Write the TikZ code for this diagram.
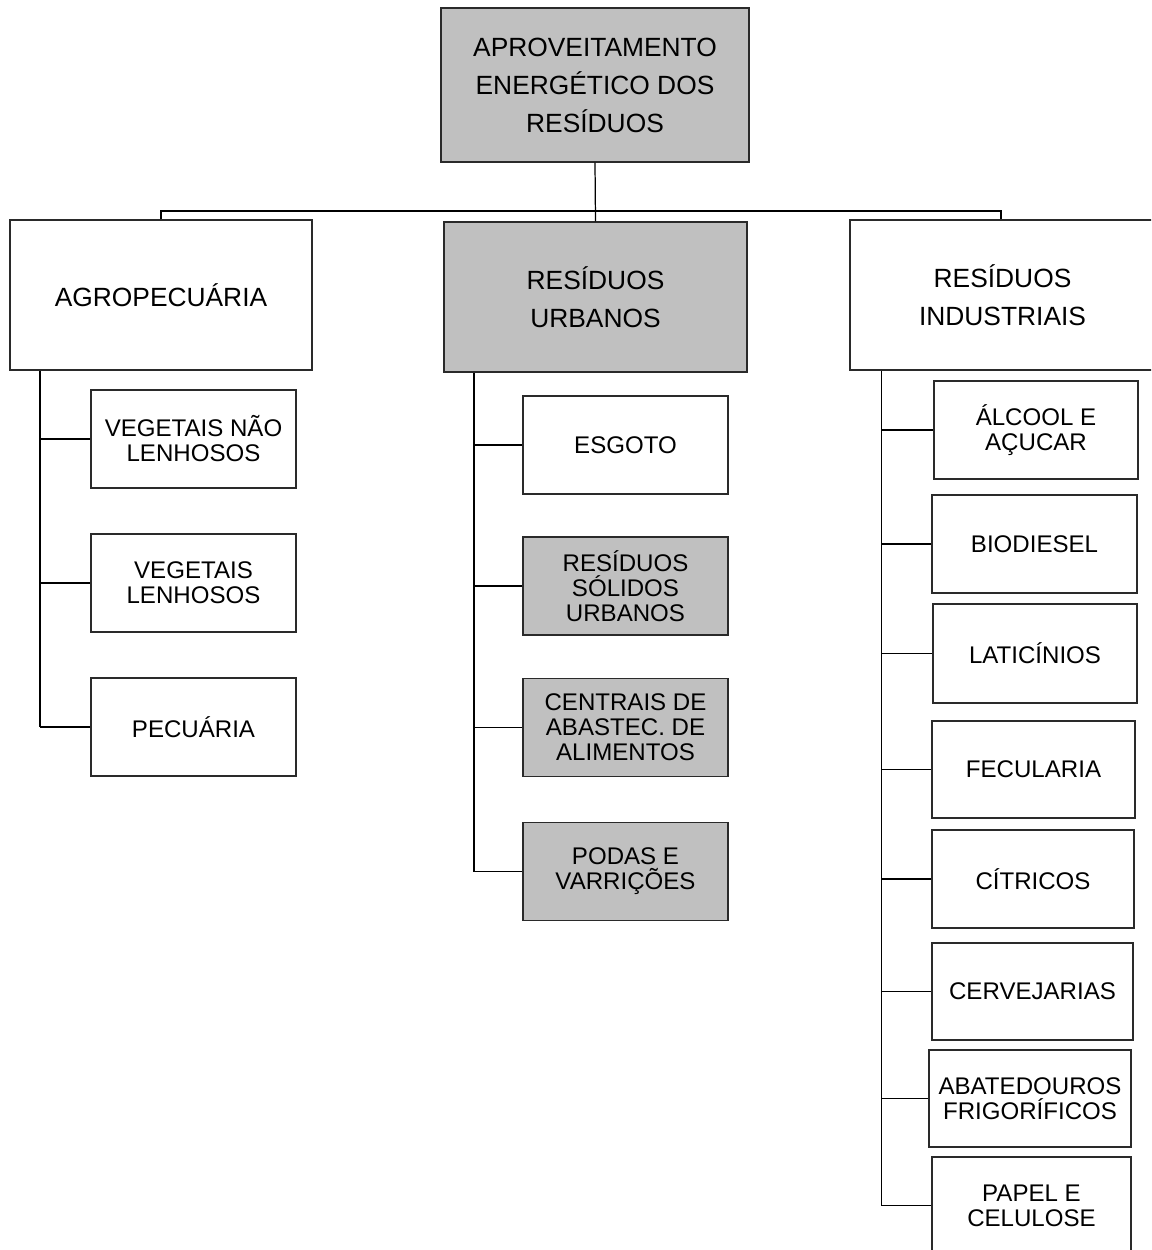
\documentclass[tikz,border=0pt]{standalone}
\usepackage{fontspec}
\setmainfont{Liberation Sans}
\definecolor{boxgray}{HTML}{C0C0C0}
\definecolor{edge}{HTML}{2A2A2A}
\tikzset{
  boxbase/.style={draw=edge, line width=0.6pt, inner sep=0pt, align=center, rectangle},
  bigbox/.style={boxbase, minimum height=3cm, font=\fontsize{15}{21.6}\selectfont},
  smallbox/.style={boxbase, minimum width=4.1cm, minimum height=1.96cm, font=\fontsize{13.7}{14.2}\selectfont},
  shaded/.style={fill=boxgray},
  link/.style={draw=black, line width=0.7pt},
  spine/.style={draw=black, line width=1pt}
}
\begin{document}
\begin{tikzpicture}
\useasboundingbox (0,0) rectangle (23.02,-25);
\clip (0,0) rectangle (23.02,-25);
\fill[white] (0,0) rectangle (23.02,-25);

% root
\node[bigbox, shaded, minimum width=6.16cm, minimum height=3.08cm] (root) at (11.9,-1.7)
  {APROVEITAMENTO\\ENERGÉTICO DOS\\RESÍDUOS};

% first level
\node[bigbox, minimum width=6.04cm] (agro) at (3.22,-5.9) {AGROPECUÁRIA};
\node[bigbox, shaded, minimum width=6.06cm] (urb) at (11.91,-5.94) {RESÍDUOS\\URBANOS};
\node[bigbox, minimum width=6.1cm] (ind) at (20.05,-5.9) {RESÍDUOS\\INDUSTRIAIS};

% bus joining the first level
\coordinate (bus) at (0,-4.22);
\draw[link] (root.south) -- (urb.north);
\draw[link] (agro.north) -- (agro.north |- bus) -- (20.02,-4.22) coordinate (busend) -- (busend |- ind.north);

% agropecuaria branch
\node[smallbox] (vnl) at (3.87,-8.78) {VEGETAIS NÃO\\LENHOSOS};
\node[smallbox] (vl)  at (3.87,-11.66) {VEGETAIS\\LENHOSOS};
\node[smallbox] (pec) at (3.87,-14.54) {PECUÁRIA};
\coordinate (sA) at (0.8,0);
\draw[spine] (sA |- agro.south) -- (sA |- pec.west);
\foreach \n in {vnl,vl,pec} \draw[link] (sA |- \n.west) -- (\n.west);

% residuos urbanos branch
\node[smallbox] (esg) at (12.51,-8.9) {ESGOTO};
\node[smallbox, shaded] (rsu) at (12.51,-11.72) {RESÍDUOS\\SÓLIDOS\\URBANOS};
\node[smallbox, shaded] (cea) at (12.51,-14.55) {CENTRAIS DE\\ABASTEC. DE\\ALIMENTOS};
\node[smallbox, shaded] (pod) at (12.51,-17.43) {PODAS E\\VARRIÇÕES};
\coordinate (sU) at (9.48,0);
\draw[spine] (sU |- urb.south) -- (sU |- pod.west);
\foreach \n in {esg,rsu,cea,pod} \draw[link] (sU |- \n.west) -- (\n.west);

% residuos industriais branch
\node[smallbox, minimum width=4.08cm] (alc) at (20.72,-8.6) {ÁLCOOL E\\AÇUCAR};
\node[smallbox] (bio) at (20.69,-10.88) {BIODIESEL};
\node[smallbox, minimum width=4.08cm, minimum height=1.98cm] (lat) at (20.7,-13.07) {LATICÍNIOS};
\node[smallbox, minimum width=4.06cm, minimum height=1.94cm] (fec) at (20.67,-15.39) {FECULARIA};
\node[smallbox, minimum width=4.04cm] (cit) at (20.66,-17.58) {CÍTRICOS};
\node[smallbox, minimum width=4.02cm, minimum height=1.94cm] (cer) at (20.65,-19.83) {CERVEJARIAS};
\node[smallbox, minimum width=4.04cm, minimum height=1.94cm] (aba) at (20.6,-21.97) {ABATEDOUROS\\FRIGORÍFICOS};
\node[smallbox, minimum width=3.98cm, minimum height=1.94cm] (pap) at (20.63,-24.11) {PAPEL E\\CELULOSE};
\coordinate (sI) at (17.63,0);
\draw[spine] (sI |- ind.south) -- (sI |- pap.west);
\foreach \n in {alc,bio,lat,fec,cit,cer,aba,pap} \draw[link] (sI |- \n.west) -- (\n.west);
\end{tikzpicture}
\end{document}
